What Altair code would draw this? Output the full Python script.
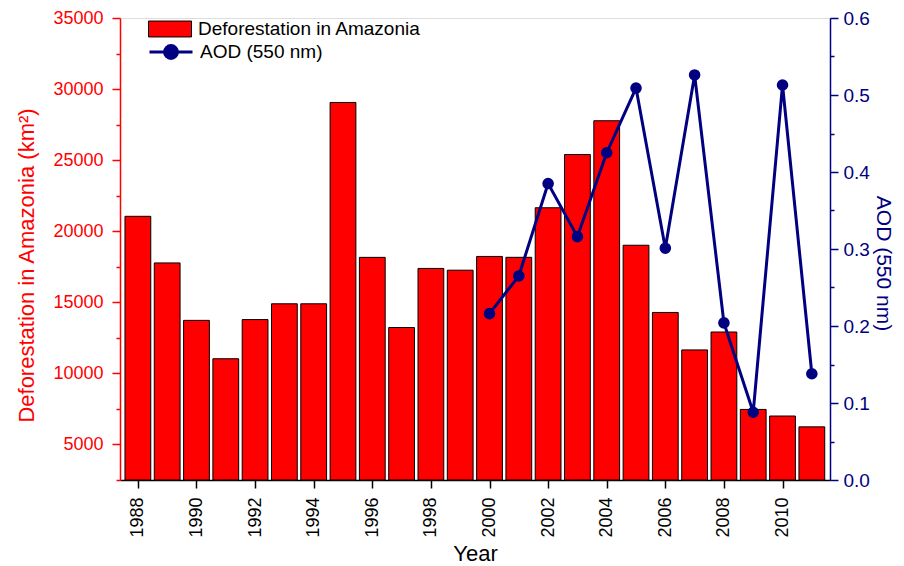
import altair as alt
import pandas as pd

# ---- data ----
years = list(range(1988, 2012))
deforestation = [21050, 17770, 13730, 11030, 13786, 14896, 14896, 29059, 18161, 13227,
                 17383, 17259, 18226, 18165, 21651, 25396, 27772, 19014, 14286, 11651,
                 12911, 7464, 7000, 6238]
aod_years = list(range(2000, 2012))
aod = [0.216, 0.265, 0.385, 0.316, 0.425, 0.509, 0.301, 0.526, 0.204, 0.088, 0.513, 0.138]

bar_name = "Deforestation in Amazonia"
line_name = "AOD (550 nm)"

RED = "#ff0000"
NAVY = "#000080"
FONT = "Liberation Sans"

bars_df = pd.DataFrame({"Year": years, "Deforestation": deforestation})
aod_df = pd.DataFrame({"Year": aod_years, "AOD": aod})

x_scale = alt.Scale(domain=[1987.39, 2011.62], nice=False, zero=False)

x_axis = alt.Axis(
    title="Year",
    values=years,
    labelExpr="datum.value % 2 == 0 ? toString(datum.value) : ''",
    labelAngle=270,
    labelFontSize=18,
    labelPadding=9,
    labelColor="black",
    tickColor="black",
    tickWidth=1.5,
    tickSize={"condition": {"test": "datum.value % 2 == 0", "value": 8}, "value": 4},
    domainColor="black",
    domainWidth=1.5,
    grid=False,
    titleFontSize=22,
    titleFontWeight="normal",
    titleColor="black",
    titleX=355,
    titleY=80,
    titleBaseline="alphabetic",
    titleAlign="center",
)

left_axis = alt.Axis(
    title="Deforestation in Amazonia (km²)",
    orient="left",
    values=list(range(2500, 35001, 2500)),
    labelExpr="datum.value % 5000 == 0 ? toString(datum.value) : ''",
    labelFontSize=18,
    labelPadding=9,
    labelColor=RED,
    tickColor=RED,
    tickWidth=1.5,
    tickSize={"condition": {"test": "datum.value % 5000 == 0", "value": 8}, "value": 4},
    domainColor=RED,
    domainWidth=1.5,
    grid=False,
    titleFontSize=22,
    titleFontWeight="normal",
    titleColor=RED,
    titleAngle=270,
    titleX=-87,
    titleY=247,
    titleBaseline="alphabetic",
    titleAlign="center",
)

right_axis = alt.Axis(
    title="AOD (550 nm)",
    orient="right",
    values=[round(v * 0.05, 2) for v in range(0, 13)],
    labelExpr="round(datum.value * 100) % 10 == 0 ? format(datum.value, '.1f') : ''",
    labelFontSize=19,
    labelPadding=5,
    labelColor=NAVY,
    tickColor=NAVY,
    tickWidth=1.5,
    tickSize={"condition": {"test": "round(datum.value * 100) % 10 == 0", "value": 8}, "value": 4},
    domainColor=NAVY,
    domainWidth=1.5,
    grid=False,
    titleFontSize=21,
    titleFontWeight="normal",
    titleColor=NAVY,
    titleAngle=90,
    titleX=46,
    titleY=245,
    titleBaseline="alphabetic",
    titleAlign="center",
)

bars = (
    alt.Chart(bars_df)
    .transform_calculate(x0="datum.Year - 0.44", x1="datum.Year + 0.44", base="2500",
                         s=f"'{bar_name}'")
    .mark_bar(stroke="black", strokeWidth=1)
    .encode(
        x=alt.X("x0:Q", scale=x_scale, axis=x_axis),
        x2="x1:Q",
        y=alt.Y("Deforestation:Q", scale=alt.Scale(domain=[2500, 35000], nice=False, zero=False), axis=left_axis),
        y2="base:Q",
        fill=alt.Fill(
            "s:N",
            scale=alt.Scale(domain=[bar_name], range=[RED]),
            legend=alt.Legend(
                title=None,
                orient="none",
                legendX=28,
                legendY=-11,
                padding=0,
                symbolType="M-1,-0.37H1V0.37H-1Z",
                symbolSize=1849,
                symbolStrokeColor="black",
                symbolStrokeWidth=1,
                labelFontSize=19,
                labelFont=FONT,
                labelColor="black",
                labelOffset=6,
                labelLimit=500,
            ),
        ),
    )
)

aod_y = alt.Y("AOD:Q", scale=alt.Scale(domain=[0, 0.6], nice=False), axis=right_axis)

line = (
    alt.Chart(aod_df)
    .transform_calculate(s=f"'{line_name}'")
    .mark_line(strokeWidth=3)
    .encode(
        x=alt.X("Year:Q", scale=x_scale),
        y=aod_y,
        stroke=alt.Stroke(
            "s:N",
            scale=alt.Scale(domain=[line_name], range=[NAVY]),
            legend=alt.Legend(
                title=None,
                orient="none",
                legendX=28,
                legendY=11,
                padding=0,
                symbolType="M-1,0H1M0.3,0A0.3,0.3 0 1,1 -0.3,0A0.3,0.3 0 1,1 0.3,0",
                symbolSize=1849,
                symbolStrokeWidth=3,
                symbolFillColor=NAVY,
                labelFontSize=19,
                labelFont=FONT,
                labelColor="black",
                labelOffset=6,
                labelLimit=500,
            ),
        ),
    )
)

points = (
    alt.Chart(aod_df)
    .mark_circle(size=135, color=NAVY, opacity=1)
    .encode(x=alt.X("Year:Q", scale=x_scale), y=aod_y)
)

chart = (
    alt.layer(bars, alt.layer(line, points))
    .resolve_scale(y="independent", fill="independent", stroke="independent")
    .properties(
        width=710,
        height=462,
        autosize=alt.AutoSizeParams(type="none"),
        padding={"left": 112, "top": 10, "right": 66, "bottom": 86},
        background="white",
    )
    .configure_view(stroke=None)
    .configure(font=FONT)
    .configure_axis(labelFont=FONT, titleFont=FONT)
)

chart.save("out.html", embed_options={"renderer": "svg", "actions": False})
